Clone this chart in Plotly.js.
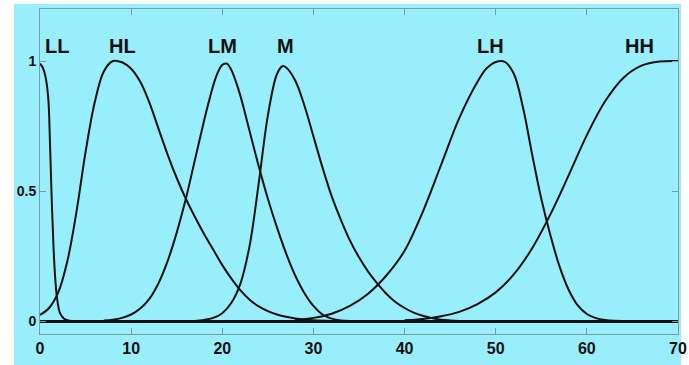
<!DOCTYPE html>
<html>
<head>
<meta charset="utf-8">
<script src="https://cdn.plot.ly/plotly-3.0.1.min.js"></script>
<style>html,body{margin:0;padding:0;background:#fff;}#chart{width:689px;height:365px;}</style>
</head>
<body>
<div id="chart"></div>
<script>
// Membership-function curves
const llX = [0, 0.3, 0.6, 0.9, 1.1, 1.3, 1.5, 1.7, 1.9, 2.2, 2.6, 3.0, 3.5];
const llY = [0.99, 0.975, 0.94, 0.86, 0.68, 0.45, 0.27, 0.15, 0.08, 0.03, 0.01, 0.003, 0];

const hlX = [0, 1, 2, 3, 4, 5, 6, 7, 8, 9, 10, 11, 12, 13, 14, 15, 16, 17, 18, 19, 20, 21, 22, 23, 24, 25, 26, 27, 28, 29, 30, 32];
const hlY = [0.023, 0.05, 0.11, 0.23, 0.42, 0.65, 0.84, 0.96, 1.0, 0.995, 0.97, 0.92, 0.84, 0.74, 0.64, 0.55, 0.47, 0.40, 0.335, 0.275, 0.215, 0.163, 0.118, 0.082, 0.056, 0.038, 0.025, 0.016, 0.01, 0.006, 0.003, 0];

const lmX = [7, 8, 9, 10, 11, 12, 13, 14, 15, 16, 17, 18, 18.5, 19, 19.5, 20, 20.5, 21, 21.5, 22, 23, 24, 25, 26, 27, 28, 29, 30, 31, 32, 33, 34];
const lmY = [0.002, 0.005, 0.012, 0.025, 0.048, 0.085, 0.145, 0.23, 0.34, 0.47, 0.62, 0.77, 0.84, 0.905, 0.955, 0.985, 0.99, 0.965, 0.92, 0.865, 0.73, 0.595, 0.47, 0.36, 0.26, 0.175, 0.108, 0.058, 0.025, 0.009, 0.002, 0];

const mX = [17, 18, 19, 20, 21, 22, 23, 24, 25, 26, 26.6, 27, 28, 29, 30, 31, 32, 33, 34, 35, 36, 37, 38, 39, 40, 41, 42, 43, 44, 45, 46];
const mY = [0, 0.004, 0.012, 0.03, 0.07, 0.145, 0.29, 0.53, 0.79, 0.95, 0.98, 0.975, 0.925, 0.83, 0.71, 0.59, 0.48, 0.39, 0.31, 0.245, 0.19, 0.145, 0.105, 0.073, 0.05, 0.032, 0.02, 0.011, 0.005, 0.002, 0];

const lhX = [28, 30, 32, 34, 36, 38, 40, 42, 44, 46, 48, 49, 50, 51, 52, 53, 54, 55, 56, 57, 58, 59, 60, 61, 62, 63, 65];
const lhY = [0.004, 0.012, 0.028, 0.058, 0.105, 0.175, 0.27, 0.42, 0.60, 0.78, 0.92, 0.972, 0.996, 0.997, 0.95, 0.82, 0.64, 0.47, 0.33, 0.21, 0.12, 0.06, 0.027, 0.011, 0.004, 0.001, 0];

const hhX = [40, 42, 44, 46, 48, 50, 52, 54, 56, 58, 60, 62, 64, 66, 68, 70];
const hhY = [0.003, 0.008, 0.018, 0.035, 0.065, 0.11, 0.18, 0.28, 0.41, 0.56, 0.715, 0.845, 0.935, 0.982, 0.998, 1.0];

const labelText = ['LL', 'HL', 'LM', 'M', 'LH', 'HH'];
const labelX = [1.9, 9.1, 20.0, 26.9, 49.4, 65.8];
const labelY = [1.057, 1.057, 1.057, 1.057, 1.057, 1.057];

const xTicks = [0, 10, 20, 30, 40, 50, 60, 70];
const yTicks = [0, 0.5, 1];
const yTickText = ['0', '0.5', '1'];

const curves = [[llX, llY], [hlX, hlY], [lmX, lmY], [mX, mY], [lhX, lhY], [hhX, hhY]];
const traces = curves.map((c, i) => ({
  x: c[0], y: c[1], type: 'scatter', mode: 'lines', name: labelText[i],
  line: {color: '#111', width: 2, shape: 'spline', smoothing: 1},
  hoverinfo: 'skip', showlegend: false
}));

const bg = 'rgb(152,238,250)';
const axisCol = '#7d9aa4';
const fontFam = 'Liberation Sans, Arial, sans-serif';

const layout = {
  width: 689, height: 365,
  margin: {l: 40, r: 11, t: 9, b: 31, pad: 0},
  paper_bgcolor: '#ffffff',
  plot_bgcolor: bg,
  showlegend: false,
  shapes: [{
    type: 'rect', xref: 'paper', yref: 'paper', layer: 'below',
    x0: -0.0408, x1: 1.0047, y0: -0.0954, y1: 1.0154,
    fillcolor: bg, line: {width: 0}
  }],
  xaxis: {
    range: [0, 70], tickvals: xTicks, showgrid: false, zeroline: false,
    showline: true, mirror: 'ticks', linecolor: axisCol, linewidth: 1,
    ticks: 'inside', ticklen: 6, tickcolor: axisCol,
    tickfont: {family: fontFam, size: 16, color: '#111', weight: 'bold'}
  },
  yaxis: {
    range: [-0.05, 1.2], tickvals: yTicks, ticktext: yTickText, showgrid: false,
    zeroline: true, zerolinecolor: '#111', zerolinewidth: 3,
    showline: true, mirror: 'ticks', linecolor: axisCol, linewidth: 1,
    ticks: 'inside', ticklen: 6, tickcolor: axisCol,
    tickfont: {family: fontFam, size: 14, color: '#111', weight: 'bold'}
  },
  annotations: labelText.map((t, i) => ({
    x: labelX[i], y: labelY[i], xref: 'x', yref: 'y', text: t, showarrow: false,
    font: {family: fontFam, size: 20, color: '#111', weight: 'bold'},
    xanchor: 'center', yanchor: 'middle'
  }))
};

Plotly.newPlot('chart', traces, layout, {displayModeBar: false, staticPlot: true});
</script>
</body>
</html>
